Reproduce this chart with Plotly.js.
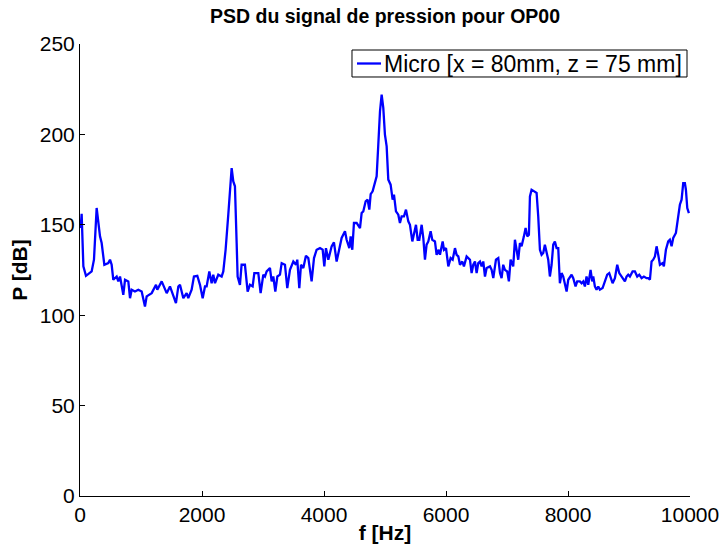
<!DOCTYPE html>
<html>
<head>
<meta charset="utf-8">
<script src="https://cdn.plot.ly/plotly-3.0.1.min.js"></script>
<style>html,body{margin:0;padding:0;background:#fff;}#chart{width:722px;height:548px;}</style>
</head>
<body>
<div id="chart"></div>
<script>
const seriesName = "Micro [x = 80mm, z = 75 mm]";
const freqHz = [10,27,55,98,191,229,273,328,355,399,464,492,519,546,601,628,656,683,710,738,792,820,847,901,956,1011,1065,1093,1175,1246,1267,1339,1421,1475,1573,1612,1639,1694,1748,1775,1830,1868,1923,1967,2011,2049,2076,2120,2158,2185,2213,2267,2322,2349,2387,2431,2486,2513,2540,2568,2584,2622,2649,2704,2748,2786,2830,2858,2923,2961,3005,3032,3060,3114,3142,3169,3202,3235,3278,3306,3360,3398,3442,3497,3541,3562,3595,3623,3661,3704,3743,3797,3836,3879,3934,3978,4005,4032,4071,4125,4163,4207,4234,4289,4344,4371,4415,4437,4464,4491,4535,4590,4617,4644,4683,4715,4743,4765,4797,4836,4863,4890,4918,4945,4972,4999,5027,5054,5092,5125,5147,5180,5218,5245,5273,5311,5344,5382,5409,5448,5480,5508,5535,5562,5601,5628,5655,5682,5710,5748,5775,5819,5846,5879,5901,5945,5967,6000,6038,6076,6109,6147,6174,6202,6229,6267,6294,6338,6365,6393,6420,6447,6475,6502,6529,6557,6584,6611,6639,6666,6721,6748,6775,6819,6857,6885,6911,6938,6966,7004,7031,7059,7102,7130,7157,7184,7212,7239,7277,7305,7332,7359,7376,7403,7447,7485,7512,7540,7567,7594,7621,7649,7676,7703,7731,7758,7785,7813,7840,7867,7895,7922,7949,7977,8004,8031,8059,8086,8124,8151,8195,8223,8250,8277,8304,8332,8370,8397,8414,8441,8468,8496,8523,8567,8605,8643,8676,8698,8731,8769,8807,8840,8878,8933,8960,8987,9015,9059,9097,9135,9168,9206,9244,9288,9315,9343,9370,9397,9425,9452,9479,9507,9550,9572,9605,9643,9670,9698,9725,9769,9807,9834,9862,9889,9916,9933,9955,9982];
const psdDb = [148.2,156.1,127.0,121.8,124.2,130.7,159.3,143.6,139.9,127.9,128.8,130.7,127.9,119.6,121.4,118.7,121.4,115.9,111.3,119.6,118.7,109.4,114.1,113.1,114.1,113.1,104.8,110.4,112.2,116.8,114.1,118.7,112.2,115.9,106.7,115.9,116.8,109.4,112.2,109.4,114.1,121.4,121.8,116.8,109.4,115.9,115.9,124.2,117.7,122.4,117.7,122.4,121.4,124.2,136.2,155.6,181.4,174.0,171.3,139.9,121.4,116.8,127.9,127.9,113.1,116.8,115.9,123.3,123.3,112.2,122.4,121.4,124.2,126.1,118.7,121.4,113.1,121.4,122.4,128.8,127.9,115.0,125.1,129.7,127.9,130.7,115.0,127.9,126.1,132.9,131.6,118.7,131.6,136.2,137.1,136.2,127.0,137.1,130.7,138.1,140.3,129.7,134.4,142.7,146.4,141.7,137.1,143.6,136.2,151.0,151.0,148.2,156.5,157.4,163.0,163.9,158.4,167.0,168.5,174.0,176.8,194.3,212.8,222.0,214.7,199.9,193.4,175.0,172.2,163.9,166.7,157.4,155.6,151.0,154.7,154.7,158.4,151.9,150.0,140.8,146.4,150.0,141.7,141.7,150.0,142.7,130.7,139.0,140.8,146.4,141.7,140.8,133.4,136.2,133.4,140.8,136.2,137.1,127.0,131.6,130.7,137.1,133.4,132.5,127.9,129.7,127.0,132.5,131.6,130.7,123.3,127.9,129.7,123.3,128.8,129.7,127.0,129.7,121.4,126.1,127.0,125.1,120.5,130.7,131.6,123.3,120.5,127.9,125.1,124.2,118.7,130.7,127.0,141.7,136.2,130.7,139.9,138.1,143.6,148.2,143.6,144.5,165.7,169.4,168.5,167.6,154.7,136.2,133.4,134.4,139.0,135.3,130.7,121.4,127.9,139.0,140.8,137.1,137.1,117.7,123.3,121.4,117.7,113.1,119.6,121.4,122.4,120.5,115.9,118.7,118.7,117.7,118.7,115.9,121.4,116.8,125.1,118.7,121.4,115.9,114.1,115.9,114.1,115.0,118.7,122.4,123.3,121.4,117.7,120.5,127.9,123.3,121.4,118.7,121.4,122.4,121.4,124.2,124.2,121.4,122.4,120.5,121.4,120.5,120.5,119.6,129.7,130.7,132.5,138.1,133.4,127.9,128.8,127.0,136.2,140.8,141.7,138.1,142.7,145.5,154.7,161.1,163.9,173.1,173.1,169.4,159.3,156.5];
const xTicks = [0,2000,4000,6000,8000,10000];
const yTicks = [0,50,100,150,200,250];

const FONT = "Liberation Sans, Arial, Helvetica, sans-serif";
const LINE_COLOR = "#0000ff";

const trace = {
  x: freqHz, y: psdDb, type: "scatter", mode: "lines", name: seriesName,
  line: {color: LINE_COLOR, width: 2.3}, showlegend: false
};

// Legend box drawn MATLAB-style (compact box with short sample line)
const legBox = {x0: 0.4459, x1: 0.9951, y0: 0.9270, y1: 0.9867};
const legMidY = (legBox.y0 + legBox.y1) / 2;

const layout = {
  width: 722, height: 548,
  margin: {l: 80, r: 32, t: 44, b: 52},
  paper_bgcolor: "#ffffff", plot_bgcolor: "#ffffff",
  font: {family: FONT, color: "#000000", size: 21},
  title: {text: "<b>PSD du signal de pression pour OP00</b>", font: {family: FONT, size: 19.5, color: "#000"},
          xref: "paper", x: 0.5, xanchor: "center", yref: "container", y: 1 - 16/548, yanchor: "middle"},
  xaxis: {
    range: [0, 10000], tickvals: xTicks, ticktext: xTicks.map(String),
    showgrid: false, zeroline: false, showline: true, linecolor: "#000", linewidth: 1,
    ticks: "inside", ticklen: 5, tickcolor: "#000", tickwidth: 1, mirror: false,
    tickfont: {family: FONT, size: 21, color: "#000"},
    title: {text: "<b>f [Hz]</b>", font: {family: FONT, size: 21, color: "#000"}, standoff: 0}
  },
  yaxis: {
    range: [0, 250], tickvals: yTicks, ticktext: yTicks.map(String),
    showgrid: false, zeroline: false, showline: true, linecolor: "#000", linewidth: 1,
    ticks: "inside", ticklen: 5, tickcolor: "#000", tickwidth: 1, mirror: false,
    tickfont: {family: FONT, size: 21, color: "#000"},
    title: {text: "<b>P [dB]</b>", font: {family: FONT, size: 21, color: "#000"}, standoff: 6}
  },
  showlegend: false,
  shapes: [
    {type: "rect", xref: "paper", yref: "paper", x0: legBox.x0, x1: legBox.x1, y0: legBox.y0, y1: legBox.y1,
     line: {color: "#000", width: 1}, fillcolor: "#ffffff", layer: "above"},
    {type: "line", xref: "paper", yref: "paper", x0: 0.4541, x1: 0.4934, y0: legMidY, y1: legMidY,
     line: {color: LINE_COLOR, width: 2.3}, layer: "above"}
  ],
  annotations: [
    {xref: "paper", yref: "paper", x: 0.4951, y: legMidY, xanchor: "left", yanchor: "middle",
     text: seriesName, showarrow: false, font: {family: FONT, size: 23, color: "#000"}}
  ]
};

Plotly.newPlot("chart", [trace], layout, {displayModeBar: false, staticPlot: true});
</script>
</body>
</html>
